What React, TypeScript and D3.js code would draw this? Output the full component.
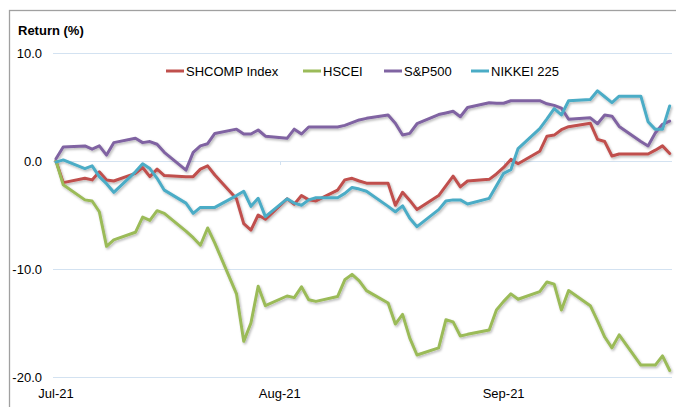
import React, { useEffect, useRef } from 'react';
import * as d3 from 'd3';

// trading days, Jul-Sep 2021
const dates = [
  '2021-07-01', '2021-07-02', '2021-07-05', '2021-07-06', '2021-07-07', '2021-07-08', '2021-07-09',
  '2021-07-12', '2021-07-13', '2021-07-14', '2021-07-15', '2021-07-16',
  '2021-07-19', '2021-07-20', '2021-07-21', '2021-07-22', '2021-07-23',
  '2021-07-26', '2021-07-27', '2021-07-28', '2021-07-29', '2021-07-30',
  '2021-08-02', '2021-08-03', '2021-08-04', '2021-08-05', '2021-08-06',
  '2021-08-09', '2021-08-10', '2021-08-11', '2021-08-12', '2021-08-13',
  '2021-08-16', '2021-08-17', '2021-08-18', '2021-08-19', '2021-08-20',
  '2021-08-23', '2021-08-24', '2021-08-25', '2021-08-26', '2021-08-27',
  '2021-08-30', '2021-08-31', '2021-09-01', '2021-09-02', '2021-09-03',
  '2021-09-06', '2021-09-07', '2021-09-08', '2021-09-09', '2021-09-10',
  '2021-09-13', '2021-09-14', '2021-09-15', '2021-09-16', '2021-09-17',
  '2021-09-20', '2021-09-21', '2021-09-22', '2021-09-23', '2021-09-24',
];

const shcomp = [
  0, -2.0, -1.6, -1.75, -1.0, -1.75, -1.85,
  -1.15, -0.6, -1.45, -0.75, -1.35,
  -1.45, -1.45, -0.75, -0.45, -1.3,
  -3.5, -5.8, -6.4, -5.0, -5.4,
  -3.5, -4.0, -3.2, -3.6, -3.7,
  -2.7, -1.75, -1.6, -1.85, -2.05,
  -2.07, -4.1, -2.9, -3.65, -4.5,
  -3.2, -2.3, -1.4, -2.4, -1.85,
  -1.7, -1.2, -0.6, 0.15, -0.25,
  0.9, 2.3, 2.4, 2.9, 3.18,
  3.5, 2.0, 1.8, 0.46, 0.65,
  0.65, 0.65, 1.0, 1.4, 0.7,
];

const hscei = [
  0, -2.2, -3.6, -3.7, -4.7, -7.9, -7.3,
  -6.6, -5.2, -5.5, -4.6, -4.85,
  -6.5, -7.1, -7.8, -6.2, -7.6,
  -12.3, -16.7, -15.0, -11.6, -13.4,
  -12.5, -12.65, -11.65, -12.85, -13.0,
  -12.55, -11.0, -10.5, -11.1, -12.0,
  -13.15, -15.1, -14.2, -16.4, -17.96,
  -17.3, -14.7, -14.9, -16.2, -16.05,
  -15.65, -13.8, -13.0, -12.3, -12.8,
  -12.1, -11.2, -11.4, -13.8, -12.0,
  -13.4, -14.8, -16.3, -17.3, -16.1,
  -18.9, -18.9, -18.9, -18.05, -19.4,
];

const sp500 = [
  0.2, 1.3, 1.4, 1.1, 1.4, 0.55, 1.7,
  2.1, 1.7, 1.8, 1.55, 0.8,
  -0.85, 0.8, 1.4, 1.6, 2.55,
  2.95, 2.5, 2.5, 2.87, 2.3,
  2.1, 2.95, 2.5, 3.15, 3.15,
  3.15, 3.3, 3.55, 3.8, 3.95,
  4.26, 3.5, 2.4, 2.56, 3.45,
  4.3, 4.45, 4.6, 4.1, 4.95,
  5.4, 5.35, 5.35, 5.58, 5.58,
  5.58, 5.3, 5.15, 4.9, 3.86,
  4.0, 3.45, 4.26, 4.15, 3.2,
  1.8, 1.39, 2.6, 3.4, 3.7,
];

const nikkei = [
  -0.1, 0.1, -0.7, -0.45, -1.45, -2.1, -2.9,
  -1.0, -0.25, -0.7, -1.6, -2.7,
  -3.9, -4.85, -4.3, -4.3, -4.3,
  -3.2, -2.8, -4.2, -3.45, -5.15,
  -3.5, -3.9, -4.1, -3.6, -3.4,
  -3.4, -3.0, -2.45, -2.6, -2.8,
  -4.2, -4.7, -4.15, -5.3, -6.08,
  -4.5, -3.7, -3.6, -3.6, -3.98,
  -3.46, -2.3, -1.14, -0.8, 1.15,
  3.0, 3.9, 4.85, 4.26, 5.58,
  5.7, 6.5, 5.95, 5.4, 6.0,
  6.0, 3.64, 2.93, 2.93, 5.1,
];

const seriesNames = ['SHCOMP Index', 'HSCEI', 'S&P500', 'NIKKEI 225'];
const seriesValues = [shcomp, hscei, sp500, nikkei];
const colors = ['#C0504D', '#9BBB59', '#8064A2', '#4BACC6'];
const yTicks = [10, 0, -10, -20];
const monthTicks = ['2021-07-01', '2021-08-01', '2021-09-01'];

export default function App() {
  const ref = useRef<SVGSVGElement>(null);
  const width = 676,
    height = 407;
  const font = 'Liberation Sans, Arial, sans-serif';

  useEffect(() => {
    const svg = d3.select(ref.current);
    svg.selectAll('*').remove();

    const parse = d3.timeParse('%Y-%m-%d');
    const days = dates.map((d) => parse(d) as Date);

    const x = d3
      .scaleTime()
      .domain([days[0], days[days.length - 1]])
      .range([56, 669.7]);
    const y = d3.scaleLinear().domain([-20, 10]).range([377, 53]);

    const defs = svg.append('defs');
    const f = defs
      .append('filter')
      .attr('id', 'shadow')
      .attr('x', '-5%')
      .attr('y', '-5%')
      .attr('width', '110%')
      .attr('height', '110%');
    f.append('feDropShadow')
      .attr('dx', 1.2)
      .attr('dy', 1.6)
      .attr('stdDeviation', 0.9)
      .attr('flood-color', '#000')
      .attr('flood-opacity', 0.28);

    // frame
    svg
      .append('rect')
      .attr('x', 9.5)
      .attr('y', 10.5)
      .attr('width', 700)
      .attr('height', 430)
      .attr('fill', '#fff')
      .attr('stroke', '#a0a0a0')
      .attr('stroke-width', 1.3);

    svg
      .append('text')
      .attr('x', 18)
      .attr('y', 35)
      .attr('font-family', font)
      .attr('font-size', 13)
      .attr('font-weight', 'bold')
      .text('Return (%)');

    // gridlines + y labels
    const grid = svg.append('g');
    grid
      .selectAll('line')
      .data(yTicks)
      .join('line')
      .attr('x1', 53)
      .attr('x2', 672)
      .attr('y1', (d) => y(d) + 0.5)
      .attr('y2', (d) => y(d) + 0.5)
      .attr('stroke', '#d3e2f1')
      .attr('stroke-width', 1);
    grid
      .selectAll('text')
      .data(yTicks)
      .join('text')
      .attr('x', 42)
      .attr('y', (d) => y(d) + 4.5)
      .attr('text-anchor', 'end')
      .attr('font-family', font)
      .attr('font-size', 13)
      .text((d) => d.toFixed(1));

    // month ticks on the zero line, labels at the bottom
    const months = monthTicks.map((d) => parse(d) as Date);
    svg
      .append('g')
      .selectAll('line')
      .data(months)
      .join('line')
      .attr('x1', (d) => Math.round(x(d)) + 0.5)
      .attr('x2', (d) => Math.round(x(d)) + 0.5)
      .attr('y1', y(0))
      .attr('y2', y(0) + 4)
      .attr('stroke', '#d3e2f1');
    svg
      .append('g')
      .selectAll('text')
      .data(months)
      .join('text')
      .attr('x', (d) => x(d))
      .attr('y', 398)
      .attr('text-anchor', 'middle')
      .attr('font-family', font)
      .attr('font-size', 13)
      .text((d) => d3.timeFormat('%b-%y')(d));

    const line = d3
      .line<number>()
      .x((_, i) => x(days[i]))
      .y((d) => y(d));

    svg
      .append('g')
      .attr('filter', 'url(#shadow)')
      .selectAll('path')
      .data(seriesValues)
      .join('path')
      .attr('d', (d) => line(d))
      .attr('fill', 'none')
      .attr('stroke', (_, i) => colors[i])
      .attr('stroke-width', 3)
      .attr('stroke-linejoin', 'round')
      .attr('stroke-linecap', 'round');

    // legend
    const legendX = [166, 303, 384, 471];
    const lg = svg
      .append('g')
      .selectAll('g')
      .data(seriesNames)
      .join('g')
      .attr('transform', (_, i) => `translate(${legendX[i]},71)`);
    lg.append('line')
      .attr('x1', 0)
      .attr('x2', 18)
      .attr('stroke', (_, i) => colors[i])
      .attr('stroke-width', 3);
    lg.append('text')
      .attr('x', 20)
      .attr('y', 4.5)
      .attr('font-family', font)
      .attr('font-size', 13)
      .text((d) => d);
  }, []);

  return (
    <svg
      ref={ref}
      width={width}
      height={height}
      style={{ position: 'absolute', left: 0, top: 0 }}
    />
  );
}
